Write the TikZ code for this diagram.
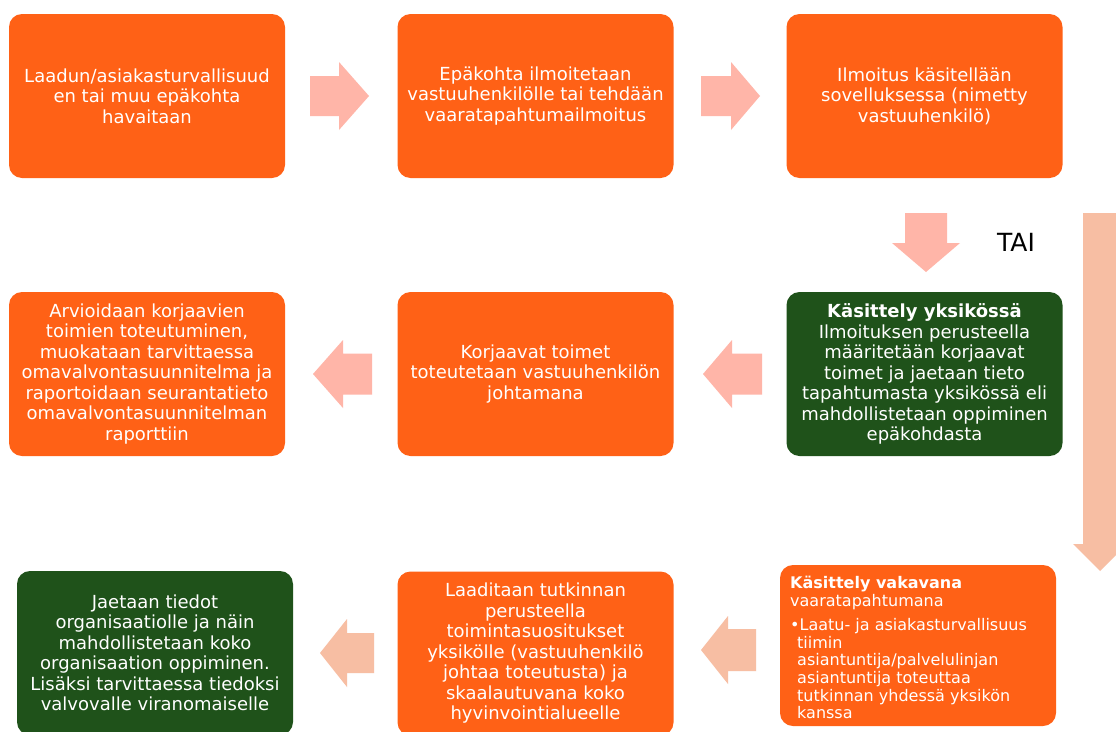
\documentclass[tikz,border=0pt]{standalone}
\usepackage{fontspec}
\setmainfont{DejaVu Sans}
\definecolor{boxorange}{RGB}{255,97,22}
\definecolor{boxgreen}{RGB}{31,82,26}
\definecolor{arrpink}{RGB}{255,181,168}
\definecolor{arrpeach}{RGB}{247,190,163}
\newcommand{\harrow}[7]{% tail, base, tip, yc, shaft half, head half, colour
  \fill[#7] ({#1},{#4-#5}) -- ({#2},{#4-#5}) -- ({#2},{#4-#6}) -- ({#3},{#4})
    -- ({#2},{#4+#6}) -- ({#2},{#4+#5}) -- ({#1},{#4+#5}) -- cycle;}
\newcommand{\varrow}[7]{% xc, tail, base, tip, shaft half, head half, colour
  \fill[#7] ({#1-#5},{#2}) -- ({#1-#5},{#3}) -- ({#1-#6},{#3}) -- ({#1},{#4})
    -- ({#1+#6},{#3}) -- ({#1+#5},{#3}) -- ({#1+#5},{#2}) -- cycle;}
\begin{document}
\begin{tikzpicture}[x=1pt,y=-1pt,
  box/.style={rounded corners=13pt, minimum width=276pt, minimum height=164pt,
    inner sep=0pt, align=center, text=white,
    font=\fontsize{18pt}{20.5pt}\selectfont},
  obox/.style={box, fill=boxorange},
  gbox/.style={box, fill=boxgreen}]
\useasboundingbox (0,0) rectangle (1116,731);
\clip (0,0) rectangle (1116,731);
\fill[white] (0,0) rectangle (1116,731);

% row 1
\node[obox] (b1) at (147,96) {Laadun/asiakasturvallisuud\\en tai muu epäkohta\\havaitaan};
\node[obox] (b2) at (535.5,96) {Epäkohta ilmoitetaan\\vastuuhenkilölle tai tehdään\\vaaratapahtumailmoitus};
\node[obox] (b3) at (924.5,96) {Ilmoitus käsitellään\\sovelluksessa (nimetty\\vastuuhenkilö)};

% row 2
\node[obox] (b4) at (147,374) {Arvioidaan korjaavien\\toimien toteutuminen,\\muokataan tarvittaessa\\omavalvontasuunnitelma ja\\raportoidaan seurantatieto\\omavalvontasuunnitelman\\raporttiin};
\node[obox] (b5) at (535.5,374) {Korjaavat toimet\\toteutetaan vastuuhenkilön\\johtamana};
\node[gbox] (b6) at (924.5,374) {\textbf{Käsittely yksikössä}\\Ilmoituksen perusteella\\määritetään korjaavat\\toimet ja jaetaan tieto\\tapahtumasta yksikössä eli\\mahdollistetaan oppiminen\\epäkohdasta};

% row 3
\node[gbox] (b7) at (155,653) {Jaetaan tiedot\\organisaatiolle ja näin\\mahdollistetaan koko\\organisaation oppiminen.\\Lisäksi tarvittaessa tiedoksi\\valvovalle viranomaiselle};
\node[obox] (b8) at (535.5,653.5) {Laaditaan tutkinnan\\perusteella\\toimintasuositukset\\yksikölle (vastuuhenkilö\\johtaa toteutusta) ja\\skaalautuvana koko\\hyvinvointialueelle};
\node[obox, minimum height=161pt] (b9) at (918,645.5) {};
\node[anchor=north west, inner sep=0pt, align=left, text=white,
  font=\fontsize{16pt}{17.6pt}\selectfont] (b9t) at (790,576)
  {\textbf{Käsittely vakavana}\\vaaratapahtumana\\[7pt]
   •Laatu- ja asiakasturvallisuus\\
   \hspace*{7pt}tiimin\\
   \hspace*{7pt}asiantuntija/palvelulinjan\\
   \hspace*{7pt}asiantuntija toteuttaa\\
   \hspace*{7pt}tutkinnan yhdessä yksikön\\
   \hspace*{7pt}kanssa};

% arrows
\harrow{310}{339}{369}{96}{20}{34}{arrpink}
\harrow{701}{731}{760}{96}{20}{34}{arrpink}
\varrow{926}{213}{243}{272}{21}{34}{arrpink}
\node[font=\fontsize{25pt}{30pt}\selectfont, text=black, inner sep=0pt] (tai) at (1016,242) {TAI};
\harrow{762}{732}{703}{374}{20.5}{34}{arrpink}
\harrow{372}{343}{313}{374}{20.5}{34}{arrpink}
\varrow{1100}{213}{544}{571}{17}{27}{arrpeach}
\harrow{756}{728}{701}{650}{21}{34}{arrpeach}
\harrow{374}{347}{320}{653}{20}{34}{arrpeach}
\end{tikzpicture}
\end{document}
